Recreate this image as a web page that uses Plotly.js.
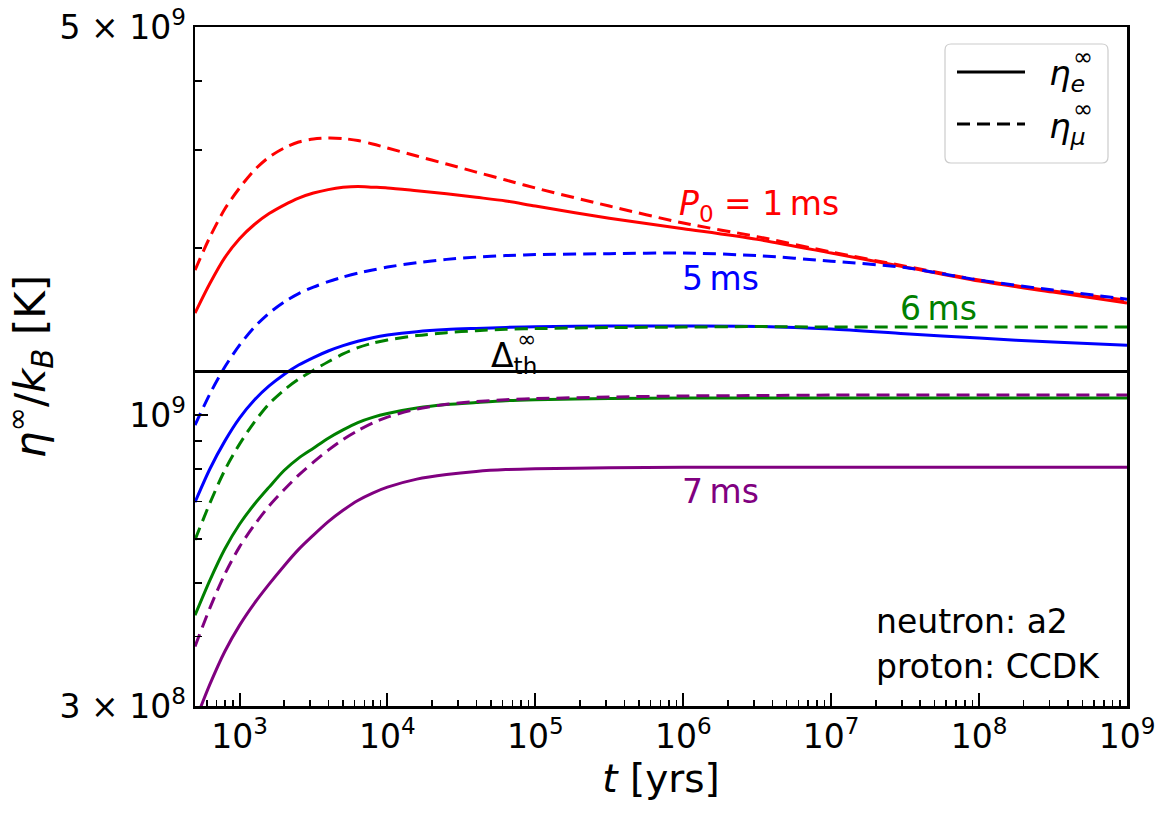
<!DOCTYPE html>
<html><head><meta charset="utf-8">
<script src="https://cdn.plot.ly/plotly-3.0.1.min.js"></script>
<style>html,body{margin:0;padding:0;background:#fff}</style>
</head><body>
<div id="chart" style="width:1171px;height:816px"></div>
<script>
// time [yrs]
const years = [500, 630, 795, 1000, 1260, 1585, 2000, 2510, 3160, 3980, 5010, 6310, 7940,
  1e4, 1.58e4, 2.51e4, 3.98e4, 6.31e4, 1e5, 3.16e5, 1e6, 3.16e6, 1e7, 3.16e7, 1e8, 3.16e8, 1e9];

// eta^inf / k_B in units of 10^9 K ; E = electron (solid), Mu = muon (dashed)
const etaE_1ms = [1.528, 1.727, 1.923, 2.080, 2.206, 2.308, 2.391, 2.461, 2.513, 2.549, 2.573, 2.583, 2.575,
  2.567, 2.537, 2.505, 2.469, 2.432, 2.381, 2.264, 2.168, 2.074, 1.960, 1.849, 1.745, 1.667, 1.593];
const etaMu_1ms = [1.826, 2.093, 2.352, 2.566, 2.764, 2.917, 3.028, 3.104, 3.143, 3.156, 3.149, 3.124, 3.079,
  3.028, 2.929, 2.834, 2.741, 2.652, 2.566, 2.381, 2.219, 2.098, 1.968, 1.856, 1.752, 1.674, 1.613];
const etaE_5ms = [0.698, 0.801, 0.899, 0.989, 1.066, 1.130, 1.185, 1.232, 1.271, 1.306, 1.335, 1.360, 1.380,
  1.395, 1.415, 1.427, 1.434, 1.440, 1.444, 1.448, 1.448, 1.446, 1.430, 1.403, 1.378, 1.355, 1.338];
const etaMu_5ms = [0.961, 1.093, 1.222, 1.338, 1.442, 1.528, 1.600, 1.657, 1.702, 1.741, 1.774, 1.803, 1.827,
  1.849, 1.883, 1.909, 1.927, 1.939, 1.947, 1.955, 1.960, 1.939, 1.895, 1.845, 1.752, 1.681, 1.619];
const etaE_6ms = [0.437, 0.505, 0.575, 0.637, 0.692, 0.743, 0.796, 0.838, 0.873, 0.910, 0.942, 0.971, 0.992,
  1.008, 1.031, 1.046, 1.055, 1.063, 1.067, 1.073, 1.075, 1.075, 1.075, 1.075, 1.075, 1.075, 1.075];
const etaMu_6ms = [0.597, 0.695, 0.797, 0.888, 0.973, 1.049, 1.111, 1.162, 1.206, 1.249, 1.290, 1.324, 1.349,
  1.367, 1.392, 1.409, 1.421, 1.429, 1.433, 1.439, 1.442, 1.445, 1.442, 1.442, 1.442, 1.442, 1.442];
const etaE_7ms = [0.281, 0.328, 0.376, 0.419, 0.459, 0.497, 0.536, 0.574, 0.609, 0.644, 0.675, 0.703, 0.725,
  0.743, 0.768, 0.783, 0.793, 0.799, 0.802, 0.805, 0.807, 0.807, 0.807, 0.807, 0.807, 0.807, 0.807];
const etaMu_7ms = [0.384, 0.450, 0.518, 0.580, 0.635, 0.687, 0.735, 0.781, 0.824, 0.866, 0.905, 0.939, 0.969,
  0.993, 1.027, 1.047, 1.059, 1.067, 1.072, 1.079, 1.084, 1.086, 1.088, 1.088, 1.088, 1.088, 1.088];

// threshold gap Delta_th^inf / k_B (10^9 K)
const deltaTh = 1.2;
const deltaX = [500, 1e9];

// ticks
const xTickVals = [1e3, 1e4, 1e5, 1e6, 1e7, 1e8, 1e9];
const xTickText = ['10<sup>3</sup>', '10<sup>4</sup>', '10<sup>5</sup>', '10<sup>6</sup>', '10<sup>7</sup>', '10<sup>8</sup>', '10<sup>9</sup>'];
const yTickVals = [3e8, 1e9, 5e9];
const yTickText = ['3 × 10<sup>8</sup>', '10<sup>9</sup>', '5 × 10<sup>9</sup>'];
const yMinor = [4e8, 5e8, 6e8, 7e8, 8e8, 9e8, 2e9, 3e9, 4e9];

const series = [
  {y: etaE_1ms, color: '#ff0000', dashed: false},
  {y: etaMu_1ms, color: '#ff0000', dashed: true},
  {y: etaE_5ms, color: '#0000ff', dashed: false},
  {y: etaMu_5ms, color: '#0000ff', dashed: true},
  {y: etaE_6ms, color: '#008000', dashed: false},
  {y: etaMu_6ms, color: '#008000', dashed: true},
  {y: etaE_7ms, color: '#800080', dashed: false},
  {y: etaMu_7ms, color: '#800080', dashed: true}
];

const xMinor = [];
for (let e = 2; e <= 8; e++) for (let m = 2; m <= 9; m++) { const v = m * Math.pow(10, e); if (v >= 500) xMinor.push(v); }

const DASH = '13px,7px';
const LW = 3;
const traces = series.map(s => ({
  x: years, y: s.y.map(v => v * 1e9), type: 'scatter', mode: 'lines', showlegend: false,
  line: {color: s.color, width: LW, dash: s.dashed ? DASH : 'solid', shape: 'spline', smoothing: 0.8},
  hoverinfo: 'skip'
}));
traces.push({x: deltaX, y: deltaX.map(() => deltaTh * 1e9), type: 'scatter', mode: 'lines', showlegend: false,
  line: {color: '#000', width: LW}, hoverinfo: 'skip'});

const F = 'DejaVu Sans, sans-serif';
const L = 195, R = 1127, T = 27, B = 706;
const px = v => (v - L) / (R - L);
const py = v => (B - v) / (B - T);

const bx0 = px(945), bx1 = px(1108), by0 = py(163), by1 = py(44);
const rx = 6 / (R - L), ry = 6 / (B - T);
const boxPath = `M ${bx0 + rx},${by0} L ${bx1 - rx},${by0} Q ${bx1},${by0} ${bx1},${by0 + ry} L ${bx1},${by1 - ry} Q ${bx1},${by1} ${bx1 - rx},${by1} L ${bx0 + rx},${by1} Q ${bx0},${by1} ${bx0},${by1 - ry} L ${bx0},${by0 + ry} Q ${bx0},${by0} ${bx0 + rx},${by0} Z`;

const ann = (text, x, y, color, size, xanchor) => ({
  text, x: px(x), y: py(y), xref: 'paper', yref: 'paper', showarrow: false,
  xanchor: xanchor || 'center', yanchor: 'middle', font: {family: F, size: size, color: color}
});

const TS = '\u2009';
const layout = {
  width: 1171, height: 816,
  margin: {l: L, r: 1171 - R, t: T, b: 816 - B},
  paper_bgcolor: '#fff', plot_bgcolor: '#fff',
  font: {family: F, color: '#000'},
  showlegend: false,
  xaxis: {
    type: 'log', range: [Math.log10(500), 9],
    showgrid: false, zeroline: false,
    showline: true, mirror: true, linecolor: '#000', linewidth: 2.5,
    ticks: 'inside', ticklen: 13, tickwidth: 2, tickcolor: '#000',
    tickmode: 'array', tickvals: xTickVals, ticktext: xTickText,
    tickfont: {family: F, size: 33, color: '#000'},
    minor: {tickmode: 'array', tickvals: xMinor, ticks: 'inside', ticklen: 6.5, tickwidth: 1.6, tickcolor: '#000', showgrid: false},
    title: {text: '<i>t</i> [yrs]', font: {family: F, size: 39, color: '#000'}, standoff: 4}
  },
  yaxis: {
    type: 'log', range: [Math.log10(3e8), Math.log10(5e9)],
    showgrid: false, zeroline: false,
    showline: true, mirror: true, linecolor: '#000', linewidth: 2.5,
    ticks: 'inside', ticklen: 13, tickwidth: 2, tickcolor: '#000',
    tickmode: 'array', tickvals: yTickVals, ticktext: yTickText,
    tickfont: {family: F, size: 33, color: '#000'},
    minor: {tickmode: 'array', tickvals: yMinor, ticks: 'inside', ticklen: 6.5, tickwidth: 1.6, tickcolor: '#000', showgrid: false},
    title: {text: '<i>η</i><sup>∞</sup>/<i>k</i><sub><i>B</i></sub> [K]', font: {family: F, size: 42, color: '#000'}, standoff: 18}
  },
  shapes: [
    {type: 'path', xref: 'paper', yref: 'paper', path: boxPath, line: {color: '#cccccc', width: 1.2}, fillcolor: 'rgba(255,255,255,0.8)'},
    {type: 'line', xref: 'paper', yref: 'paper', x0: px(957), x1: px(1025), y0: py(72), y1: py(72), line: {color: '#000', width: LW}},
    {type: 'line', xref: 'paper', yref: 'paper', x0: px(957), x1: px(1025), y0: py(124), y1: py(124), line: {color: '#000', width: LW, dash: DASH}}
  ],
  annotations: [
    ann('<i>η</i><sub><i>e</i></sub>', 1047, 76, '#000', 34, 'left'),
    ann('∞', 1083, 57, '#000', 24),
    ann('<i>η</i><sub><i>μ</i></sub>', 1047, 128, '#000', 34, 'left'),
    ann('∞', 1083, 109, '#000', 24),
    ann('<i>P</i><sub>0</sub> = 1' + TS + 'ms', 759, 206, '#ff0000', 33),
    ann('5' + TS + 'ms', 720, 278, '#0000ff', 33),
    ann('6' + TS + 'ms', 938, 308, '#008000', 33),
    ann('Δ<sub>th</sub>', 489, 357, '#000', 33, 'left'),
    ann('∞', 526, 339, '#000', 23),
    ann('7' + TS + 'ms', 720, 491, '#800080', 33),
    ann('neutron: a2', 874, 621, '#000', 33, 'left'),
    ann('proton: CCDK', 874, 666, '#000', 33, 'left')
  ]
};

Plotly.newPlot('chart', traces, layout, {staticPlot: true, displayModeBar: false});
</script>
</body></html>
